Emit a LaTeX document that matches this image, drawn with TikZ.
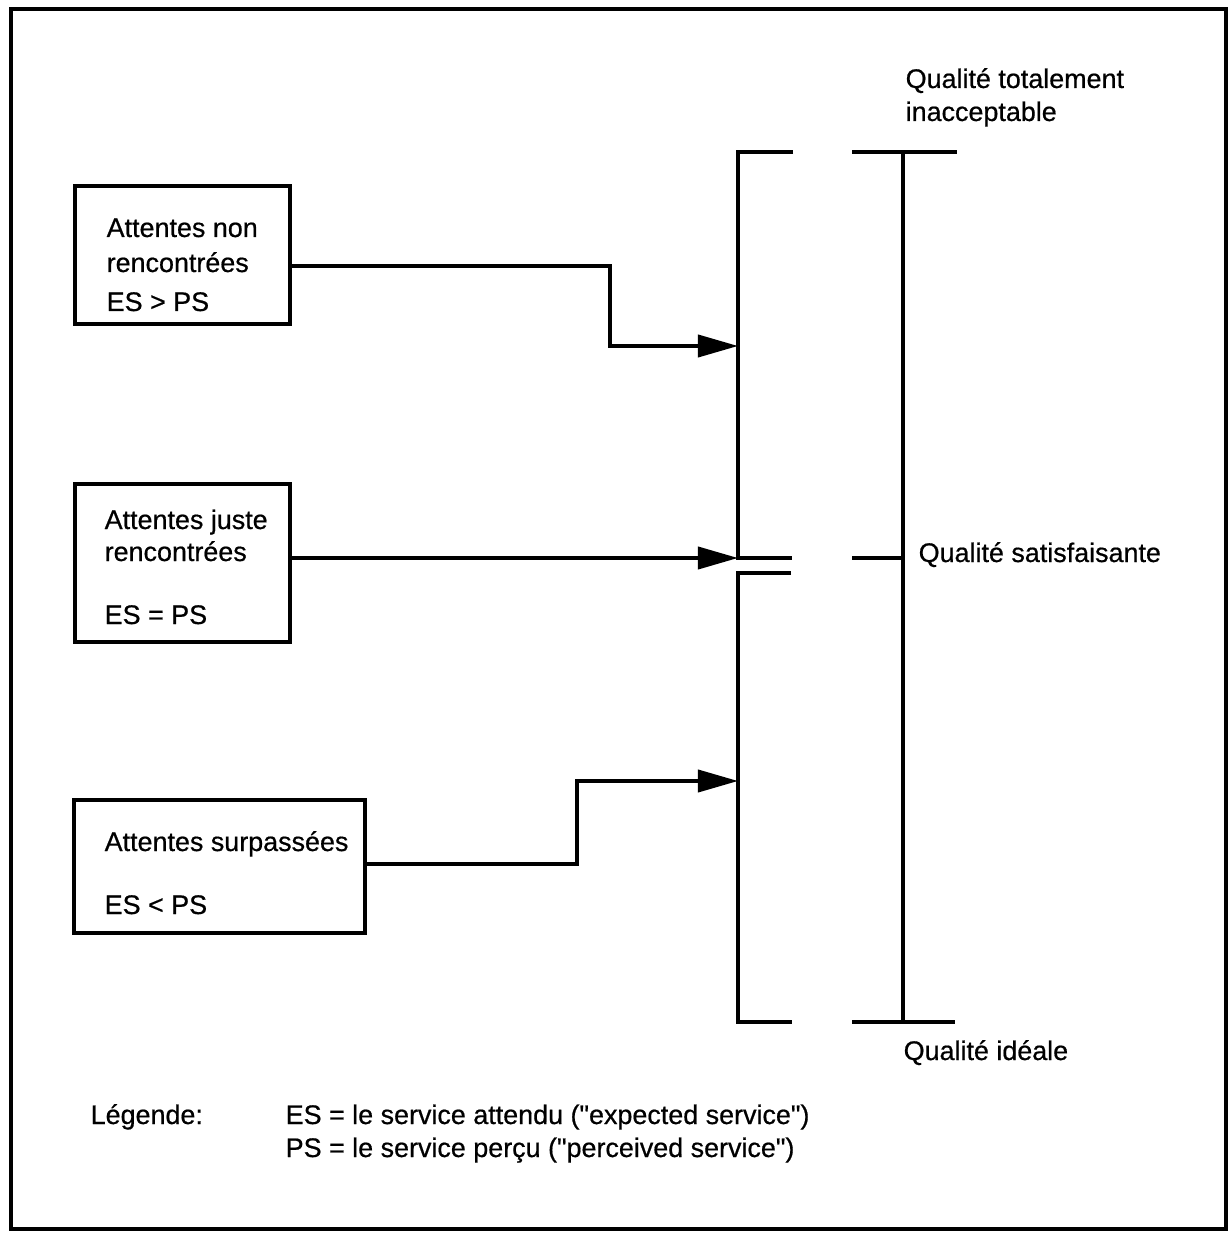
\documentclass[tikz,border=0pt]{standalone}
\usepackage{fontspec}
\setmainfont{Liberation Sans}[FakeBold=0.6]
\usetikzlibrary{arrows.meta,positioning,calc}

\begin{document}
\begin{tikzpicture}[
    x=0.01cm, y=-0.01cm,
    box/.style={draw, line width=1.1pt, inner sep=0pt, anchor=north west},
    txt/.style={anchor=base west, inner sep=0pt, font=\fontsize{7.65}{9.4}\selectfont},
    arr/.style={-{Triangle[length=4mm, width=2.2mm]}, line width=1.1pt},
    bar/.style={line width=1.1pt}
]
\useasboundingbox (0,0) rectangle (1229,1237);
\draw[line width=1.1pt] (11,9) rectangle (1226,1229);

% expectation boxes
\node[box, minimum width=2.15cm, minimum height=1.38cm] (nonmet) at (73,184) {};
\node[txt] (nonmet1) at (106,237) {Attentes non};
\node[txt] (nonmet2) at (106,272) {rencontrées};
\node[txt] (nonmet3) at (106,311) {ES > PS};

\node[box, minimum width=2.15cm, minimum height=1.58cm] (justmet) at (73,482) {};
\node[txt] (justmet1) at (104,529) {Attentes juste};
\node[txt] (justmet2) at (104,561) {rencontrées};
\node[txt] (justmet3) at (104,624) {ES = PS};

\node[box, minimum width=2.91cm, minimum height=1.33cm] (surp) at (72,798) {};
\node[txt] (surp1) at (104,851) {Attentes surpassées};
\node[txt] (surp2) at (104,914) {ES < PS};

% brackets and quality scale
\coordinate (ubtop) at (738,152);
\coordinate (ubbot) at (738,558);
\coordinate (lbtop) at (738,573);
\coordinate (lbbot) at (738,1022);
\coordinate (sctop) at (903,152);
\coordinate (scmid) at (903,558);
\coordinate (scbot) at (903,1022);

\draw[bar] ($(ubtop)+(55,0)$) -- (ubtop) -- (ubbot) -- ($(ubbot)+(54,0)$);
\draw[bar] ($(lbtop)+(53,0)$) -- (lbtop) -- (lbbot) -- ($(lbbot)+(54,0)$);
\draw[bar] (sctop) -- (scbot);
\draw[bar] ($(sctop)+(-51,0)$) -- ($(sctop)+(54,0)$);
\draw[bar] ($(scmid)+(-51,0)$) -- (scmid);
\draw[bar] ($(scbot)+(-51,0)$) -- ($(scbot)+(52,0)$);

\node[txt] (worst1) at (905,88) {Qualité totalement};
\node[txt] (worst2) at (905,121) {inacceptable};
\node[txt] (okq) at (918,562) {Qualité satisfaisante};
\node[txt] (ideal) at (903,1060) {Qualité idéale};

% connectors
\draw[arr] (nonmet.east |- 0,266) -| (610,346) -- (ubtop |- 0,346);
\draw[arr] (justmet.east |- 0,558) -- (ubbot);
\draw[arr] (surp.east |- 0,864) -| (577,781) -- (lbtop |- 0,781);

% legend
\node[txt] (leg) at (90,1124) {Légende:};
\node[txt] (leges) at (285,1124) {ES = le service attendu (\textquotedbl expected service\textquotedbl)};
\node[txt] (legps) at (285,1157) {PS = le service perçu (\textquotedbl perceived service\textquotedbl)};
\end{tikzpicture}
\end{document}
